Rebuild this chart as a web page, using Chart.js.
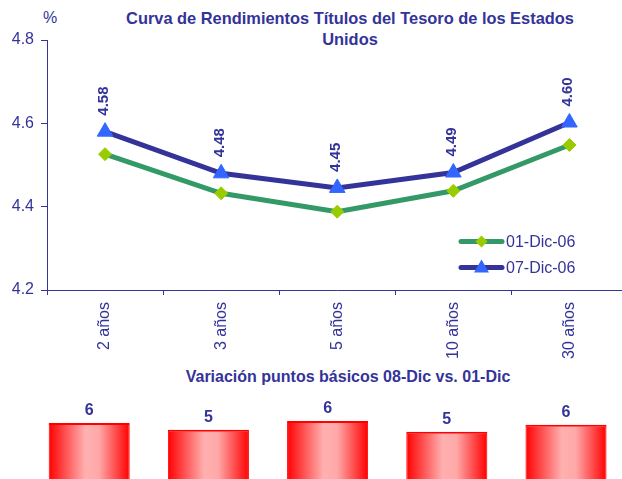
<!DOCTYPE html>
<html>
<head>
<meta charset="utf-8">
<title>Curva de Rendimientos</title>
<script src="https://cdn.jsdelivr.net/npm/chart.js"></script>
<style>
  body { margin:0; width:622px; height:479px; overflow:hidden; background:#fff; position:relative;
         font-family:"Liberation Sans", Arial, sans-serif; color:#333399; }
  .t { position:absolute; font-weight:bold; text-align:center; white-space:nowrap; }
  #lineChart { position:absolute; left:0; top:0; }
  #barChart { position:absolute; left:0; top:395px; }
</style>
</head>
<body>
<div style="position:absolute;left:43px;top:9px;font-size:16px;line-height:18px;">%</div>
<div class="t" style="left:100px;width:500px;top:7.5px;font-size:16.4px;line-height:21px;">Curva de Rendimientos Títulos del Tesoro de los Estados<br>Unidos</div>
<div class="t" style="left:148px;width:400px;top:368px;font-size:16px;line-height:18px;">Variación puntos básicos 08-Dic vs. 01-Dic</div>
<canvas id="lineChart" width="640" height="360"></canvas>
<canvas id="barChart" width="640" height="84"></canvas>
<script>
// plazos
const categories = ['2 años', '3 años', '5 años', '10 años', '30 años'];
// rendimientos (%)
const dic01 = [4.526, 4.432, 4.388, 4.438, 4.548];
const dic07 = [4.58, 4.48, 4.445, 4.482, 4.602];
// etiquetas tal como aparecen en el gráfico
const dic07Txt = ['4.58', '4.48', '4.45', '4.49', '4.60'];
// variación en puntos básicos
const variacion = [5.8, 5.1, 6.0, 4.9, 5.6];
const yMin = 4.2, yMax = 4.8, yStep = 0.2;

const azul = '#333399';
const fuente = '"Liberation Sans", Arial, sans-serif';

// etiquetas verticales sobre la serie 07-Dic
const etiquetas = {
  id: 'etiquetas',
  afterDatasetsDraw(chart) {
    const ctx = chart.ctx;
    const meta = chart.getDatasetMeta(1);
    ctx.save();
    ctx.fillStyle = azul;
    ctx.font = 'bold 15px ' + fuente;
    ctx.textAlign = 'left';
    ctx.textBaseline = 'alphabetic';
    meta.data.forEach((p, i) => {
      ctx.save();
      ctx.translate(p.x, p.y - 16);
      ctx.rotate(-Math.PI / 2);
      ctx.fillText(dic07Txt[i], 0, 3);
      ctx.restore();
    });
    ctx.restore();
  }
};

// leyenda dentro del área del gráfico
const leyenda = {
  id: 'leyenda',
  afterDraw(chart) {
    const ctx = chart.ctx;
    const filas = [
      { txt: '01-Dic-06', linea: '#339966', marca: '#99cc00', tipo: 'rombo', y: 241.5 },
      { txt: '07-Dic-06', linea: azul, marca: '#3366ff', tipo: 'tri', y: 267.5 }
    ];
    ctx.save();
    filas.forEach(f => {
      ctx.strokeStyle = f.linea;
      ctx.lineWidth = 5;
      ctx.lineCap = 'round';
      ctx.beginPath();
      ctx.moveTo(461, f.y);
      ctx.lineTo(502, f.y);
      ctx.stroke();
      ctx.fillStyle = f.marca;
      ctx.beginPath();
      const cx = 481.5;
      if (f.tipo === 'rombo') {
        ctx.moveTo(cx, f.y - 6); ctx.lineTo(cx + 6, f.y); ctx.lineTo(cx, f.y + 6); ctx.lineTo(cx - 6, f.y);
      } else {
        ctx.moveTo(cx, f.y - 8); ctx.lineTo(cx + 7.5, f.y + 5); ctx.lineTo(cx - 7.5, f.y + 5);
      }
      ctx.closePath();
      ctx.fill();
      ctx.fillStyle = azul;
      ctx.font = '16px ' + fuente;
      ctx.textAlign = 'left';
      ctx.textBaseline = 'middle';
      ctx.fillText(f.txt, 506, f.y + 1);
    });
    ctx.restore();
  }
};

new Chart(document.getElementById('lineChart'), {
  type: 'line',
  data: {
    labels: categories,
    datasets: [
      {
        label: '01-Dic-06', data: dic01,
        borderColor: '#339966', borderWidth: 5, tension: 0,
        pointStyle: 'rectRot', pointRadius: 6.5,
        pointBackgroundColor: '#99cc00', pointBorderColor: '#99cc00', pointBorderWidth: 1
      },
      {
        label: '07-Dic-06', data: dic07,
        borderColor: azul, borderWidth: 5, tension: 0,
        pointStyle: 'triangle', pointRadius: 9,
        pointBackgroundColor: '#3366ff', pointBorderColor: '#3366ff', pointBorderWidth: 1
      }
    ]
  },
  options: {
    responsive: false,
    animation: false,
    layout: { padding: { top: 40, right: 12.5, left: 0, bottom: 0 } },
    plugins: { legend: { display: false }, tooltip: { enabled: false } },
    scales: {
      x: {
        offset: true,
        grid: { offset: true, drawOnChartArea: false, color: azul, tickLength: 5 },
        border: { color: azul, width: 1 },
        ticks: { color: azul, font: { family: fuente, size: 16 }, minRotation: 90, maxRotation: 90, padding: 7 },
        afterFit(s) { s.height = 70; }
      },
      y: {
        min: yMin, max: yMax,
        grid: { drawOnChartArea: false, color: azul, tickLength: 6 },
        border: { color: azul, width: 1 },
        ticks: { stepSize: yStep, color: azul, font: { family: fuente, size: 16 }, padding: 7,
                 callback: v => v.toFixed(1) },
        afterFit(s) { s.width = 47; }
      }
    }
  },
  plugins: [etiquetas, leyenda]
});

// degradado rojo horizontal de cada barra
function gradiente(c) {
  const chart = c.chart;
  const area = chart.chartArea;
  const xs = chart.scales.x;
  if (!area || !xs || c.dataIndex === undefined) return '#ff0000';
  const ancho = (area.right - area.left) / categories.length * 0.68;
  const cx = xs.getPixelForValue(c.dataIndex);
  const g = chart.ctx.createLinearGradient(cx - ancho / 2, 0, cx + ancho / 2, 0);
  g.addColorStop(0, '#ff0000');
  g.addColorStop(0.08, '#ff2020');
  g.addColorStop(0.45, '#ffb0b0');
  g.addColorStop(0.62, '#ffa8a8');
  g.addColorStop(1, '#ff0000');
  return g;
}

const valoresBarras = {
  id: 'valoresBarras',
  afterDatasetsDraw(chart) {
    const ctx = chart.ctx;
    const meta = chart.getDatasetMeta(0);
    ctx.save();
    ctx.fillStyle = azul;
    ctx.font = 'bold 16px ' + fuente;
    ctx.textAlign = 'center';
    ctx.textBaseline = 'middle';
    meta.data.forEach((b, i) => {
      ctx.fillText(Math.round(variacion[i]), b.x, b.y - 12);
    });
    ctx.restore();
  }
};

new Chart(document.getElementById('barChart'), {
  type: 'bar',
  data: {
    labels: categories,
    datasets: [{
      data: variacion,
      backgroundColor: gradiente,
      borderColor: '#ff0000',
      borderWidth: { top: 2, left: 1, right: 1, bottom: 0 },
      borderSkipped: 'bottom',
      barPercentage: 0.68,
      categoryPercentage: 1
    }]
  },
  options: {
    responsive: false,
    animation: false,
    layout: { padding: { left: 29.6, right: 14.4, top: 0, bottom: 0 } },
    plugins: { legend: { display: false }, tooltip: { enabled: false } },
    scales: {
      x: { display: false },
      y: { display: false, min: 0, max: 8.69 }
    }
  },
  plugins: [valoresBarras]
});
</script>
</body>
</html>
